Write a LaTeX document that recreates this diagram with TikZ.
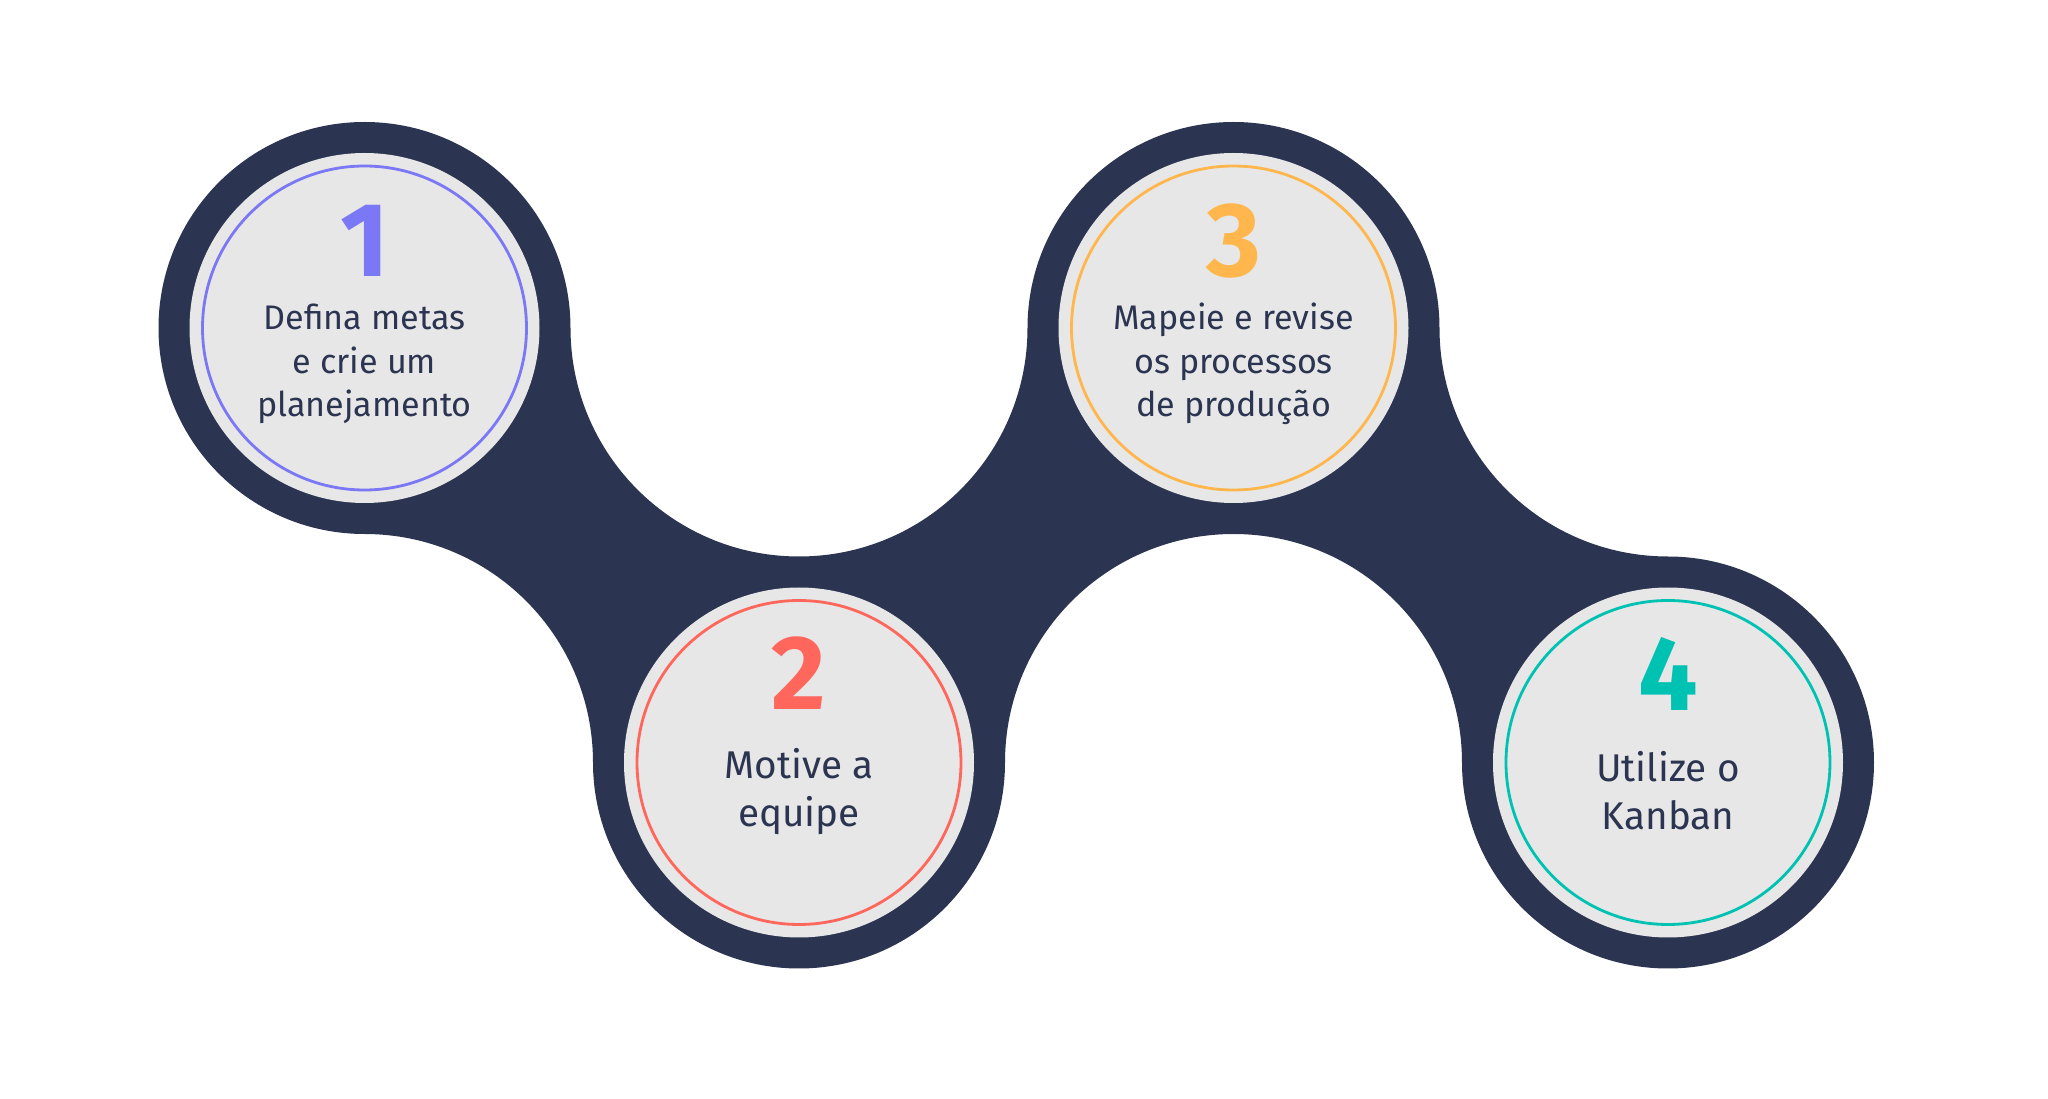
\documentclass[tikz,border=0pt]{standalone}
\usepackage{fontspec}
\setmainfont{Fira Sans}
\definecolor{navy}{HTML}{2B3450}
\definecolor{discgray}{HTML}{E7E7E7}
\definecolor{violetring}{HTML}{7B78F5}
\definecolor{coralring}{HTML}{FF675D}
\definecolor{amberring}{HTML}{FFB74D}
\definecolor{tealring}{HTML}{00C2B2}
\tikzset{
  stepnum/.style={font=\fontsize{30}{30}\selectfont\bfseries},
  steptext/.style={align=center,text=navy,font=\fontsize{9.7}{12.4}\selectfont},
  steptextbig/.style={align=center,text=navy,font=\fontsize{11}{13.7}\selectfont}
}
\begin{document}
\begin{tikzpicture}
\useasboundingbox (0,0) rectangle (20.48,10.99);
\fill[white] (0,0) rectangle (20.48,10.99);
% dark band round the four steps
\fill[navy] (1.585,7.71) arc[start angle=180,end angle=0,radius=2.06]
  arc[start angle=180,end angle=360,radius=2.285]
  arc[start angle=180,end angle=0,radius=2.06]
  arc[start angle=180,end angle=270,radius=2.285]
  arc[start angle=90,end angle=-180,radius=2.06]
  arc[start angle=0,end angle=180,radius=2.285]
  arc[start angle=0,end angle=-180,radius=2.06]
  arc[start angle=0,end angle=90,radius=2.285]
  arc[start angle=-90,end angle=-180,radius=2.06] -- cycle;
\begin{scope}[shift={(3.645,7.71)}]
\fill[discgray] (0,0) circle (1.75);
\draw[violetring,line width=0.8pt] (0,0) circle (1.62);
\node[stepnum,text=violetring] (num1) at (0,0.87) {1};
\node[steptext] (txt1) at (0,-0.36) {Defina metas\\e crie um\\planejamento};
\end{scope}
\begin{scope}[shift={(7.99,3.365)}]
\fill[discgray] (0,0) circle (1.75);
\draw[coralring,line width=0.8pt] (0,0) circle (1.62);
\node[stepnum,text=coralring] (num2) at (0,0.89) {2};
\node[steptextbig] (txt2) at (0,-0.29) {Motive a\\equipe};
\end{scope}
\begin{scope}[shift={(12.335,7.71)}]
\fill[discgray] (0,0) circle (1.75);
\draw[amberring,line width=0.8pt] (0,0) circle (1.62);
\node[stepnum,text=amberring] (num3) at (0,0.87) {3};
\node[steptext] (txt3) at (0,-0.36) {Mapeie e revise\\os processos\\de produção};
\end{scope}
\begin{scope}[shift={(16.68,3.365)}]
\fill[discgray] (0,0) circle (1.75);
\draw[tealring,line width=0.8pt] (0,0) circle (1.62);
\node[stepnum,text=tealring] (num4) at (0,0.89) {4};
\node[steptextbig] (txt4) at (0,-0.28) {Utilize o\\Kanban};
\end{scope}
\end{tikzpicture}
\end{document}
